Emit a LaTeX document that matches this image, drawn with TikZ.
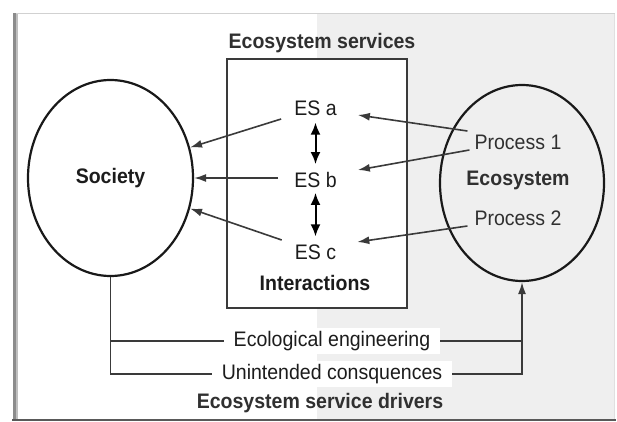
\documentclass[tikz,border=0pt]{standalone}
\usepackage{fontspec}
\setmainfont[FakeStretch=0.93]{Liberation Sans}
\usetikzlibrary{shapes.geometric,arrows.meta,calc}
\definecolor{bggray}{HTML}{EFEFEF}
\definecolor{ln}{HTML}{3A3A3A}
\definecolor{txt}{HTML}{1C1C1C}
\definecolor{txtg}{HTML}{303030}
\begin{document}
\begin{tikzpicture}[x=1pt,y=-1pt,
  every node/.style={font=\fontsize{21}{24}\selectfont, text=txt},
  boldlbl/.style={font=\fontsize{21}{24}\selectfont\bfseries},
  oval/.style={ellipse, draw=black!90, line width=2.2pt, inner sep=0pt},
  esbox/.style={draw=ln, line width=1.7pt, fill=white, inner sep=0pt},
  estext/.style={inner sep=0pt},
  arr/.style={draw=ln, line width=1.6pt, -{Latex[length=12pt,width=8pt]}},
  dbl/.style={draw=black, line width=2pt, {Latex[length=12pt,width=10pt]}-{Latex[length=12pt,width=10pt]}},
  conn/.style={draw=ln, line width=1.6pt},
  lbl/.style={fill=white, inner xsep=10pt, inner ysep=3pt}]
% background and frame
\fill[white] (0,0) rectangle (617,422);
\useasboundingbox (0,0) rectangle (617,422);
\fill[bggray] (317,14) rectangle (614,419);
\draw[black!18, line width=1.5pt] (14,13.5) -- (615,13.5);
\draw[black!12, line width=1pt] (614,14) -- (614,419);
\fill[black!45] (12.5,13) rectangle (16,421);
\fill[black!25] (16,14) rectangle (17.5,419);
\draw[black!65, line width=1.5pt] (12,420) -- (616,420);
% main shapes
\node[oval, minimum width=165pt, minimum height=196pt, boldlbl] (soc) at (110.5,178) {Society};
\node[oval, minimum width=164pt, minimum height=196pt] (eco) at (522,183) {};
\node[esbox, minimum width=180pt, minimum height=249pt] (box) at (317,183.5) {};
% texts
\node[boldlbl, text=txtg] (title) at (322,43) {Ecosystem services};
\node[estext] (esa) at (315.5,108) {ES a};
\node[estext] (esb) at (315.5,180) {ES b};
\node[estext] (esc) at (315.5,252) {ES c};
\node[boldlbl] (inter) at (315,283) {Interactions};
\node[estext, text=txtg] (p1) at (518,142) {Process 1};
\node[boldlbl, text=txtg] (ecot) at (518,180) {Ecosystem};
\node[estext, text=txtg] (p2) at (518,218) {Process 2};
\node[boldlbl, text=txtg] (drv) at (320,403) {Ecosystem service drivers};
% services to society
\draw[arr] ($(esa.west)+(-13,11)$) -- (soc.21);
\draw[arr] ($(esb.west)+(-16,-2)$) -- (soc.east);
\draw[arr] ($(esc.west)+(-13,-12)$) -- (soc.-21);
% processes to services
\draw[arr] ($(p1.west)+(-7,-11)$) -- ($(esa.east)+(21,7)$);
\draw[arr] ($(p1.west)+(-5,8)$) -- ($(esb.east)+(21,-10)$);
\draw[arr] ($(p2.west)+(-7,8)$) -- ($(esc.east)+(21,-10)$);
% interactions
\draw[dbl] ($(esa.south)+(0,7)$) -- ($(esb.north)+(0,-8)$);
\draw[dbl] ($(esb.south)+(0,5)$) -- ($(esc.north)+(0,-8)$);
% drivers
\node[lbl] (eng) at (332,341) {Ecological engineering};
\node[lbl] (uni) at (332,374) {Unintended consquences};
\draw[conn] (soc.south) |- (uni.west);
\draw[conn] (soc.south |- eng.west) -- (eng.west);
\draw[conn] (eng.east) -- (eco.south |- eng.east);
\draw[arr] (uni.east) -| (eco.south);
\end{tikzpicture}
\end{document}
